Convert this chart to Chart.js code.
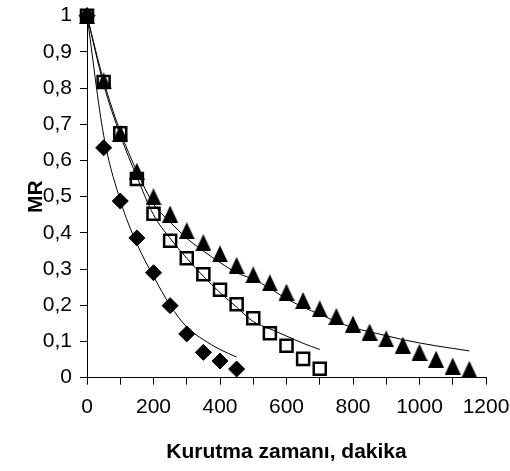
<!DOCTYPE html>
<html>
<head>
<meta charset="utf-8">
<script src="https://cdn.jsdelivr.net/npm/chart.js@4/dist/chart.umd.min.js"></script>
<style>
  html, body { margin: 0; padding: 0; background: #fff; }
  #wrap { width: 510px; height: 471px; }
</style>
</head>
<body>
<div id="wrap"><canvas id="mrChart" width="510" height="471"></canvas></div>
<script>
// drying time (min) and measured MR values
const timeA = [0, 50, 100, 150, 200, 250, 300, 350, 400, 450];
const mrA = [1, 0.635, 0.488, 0.386, 0.29, 0.199, 0.121, 0.07, 0.046, 0.024];

const timeB = [0, 50, 100, 150, 200, 250, 300, 350, 400, 450, 500, 550, 600, 650, 700];
const mrB = [1, 0.817, 0.675, 0.549, 0.453, 0.378, 0.33, 0.286, 0.243, 0.203, 0.164, 0.123, 0.088, 0.052, 0.025];

const timeC = [0, 50, 100, 150, 200, 250, 300, 350, 400, 450, 500, 550, 600, 650, 700, 750, 800, 850, 900, 950, 1000, 1050, 1100, 1150];
const mrC = [1, 0.82, 0.675, 0.57, 0.5, 0.452, 0.406, 0.373, 0.342, 0.31, 0.284, 0.262, 0.236, 0.213, 0.19, 0.169, 0.148, 0.126, 0.107, 0.09, 0.07, 0.051, 0.032, 0.023];

// fitted model curves
const fitA = [1, 0.67, 0.49, 0.37, 0.28, 0.2, 0.14, 0.105, 0.078, 0.057];
const fitB = [1, 0.81, 0.67, 0.555, 0.45, 0.385, 0.33, 0.28, 0.235, 0.195, 0.155, 0.135, 0.115, 0.095, 0.078];
const fitC = [1, 0.82, 0.68, 0.57, 0.48, 0.43, 0.385, 0.35, 0.318, 0.29, 0.272, 0.247, 0.218, 0.195, 0.175, 0.155, 0.138, 0.127, 0.116, 0.105, 0.096, 0.088, 0.081, 0.074];

const xTitle = 'Kurutma zamanı, dakika';
const yTitle = 'MR';

const pts = (xs, ys) => xs.map((x, i) => ({ x: x, y: ys[i] }));

// Excel-like triangle marker: a bit taller than wide
function triangleMarker(w, h) {
  const c = document.createElement('canvas');
  c.width = w;
  c.height = h;
  const g = c.getContext('2d');
  g.fillStyle = '#000';
  g.beginPath();
  g.moveTo(w / 2, 0);
  g.lineTo(w, h);
  g.lineTo(0, h);
  g.closePath();
  g.fill();
  return c;
}

const fitLine = (xs, ys) => ({
  data: pts(xs, ys),
  showLine: true,
  borderColor: '#000',
  borderWidth: 1,
  pointRadius: 0,
  cubicInterpolationMode: 'monotone',
  clip: false,
  order: 0
});

const tickFont = { family: 'Liberation Sans, Arial, sans-serif', size: 21 };
const titleFont = { family: 'Liberation Sans, Arial, sans-serif', size: 21, weight: 'bold' };

new Chart(document.getElementById('mrChart'), {
  type: 'scatter',
  data: {
    datasets: [
      {
        data: pts(timeB, mrB),
        pointStyle: 'rect',
        pointRadius: 8.5,
        pointBackgroundColor: '#fff',
        pointBorderColor: '#000',
        pointBorderWidth: 2.5,
        clip: false,
        order: 3
      },
      {
        data: pts(timeA, mrA),
        pointStyle: 'rectRot',
        pointRadius: 8,
        pointBackgroundColor: '#000',
        pointBorderColor: '#000',
        pointBorderWidth: 1,
        clip: false,
        order: 2
      },
      {
        data: pts(timeC, mrC),
        pointStyle: triangleMarker(16, 17),
        pointRadius: 9,
        clip: false,
        order: 1
      },
      fitLine(timeA, fitA),
      fitLine(timeB, fitB),
      fitLine(timeC, fitC)
    ]
  },
  options: {
    responsive: false,
    animation: false,
    layout: { padding: { top: 15.7, right: 24, bottom: 0, left: 0 } },
    plugins: { legend: { display: false }, tooltip: { enabled: false } },
    scales: {
      x: {
        type: 'linear',
        min: 0,
        max: 1200,
        afterFit: (s) => { s.height = 93.3; s.paddingLeft = 0; s.paddingRight = 0; },
        border: { color: '#000', width: 1 },
        grid: { drawOnChartArea: false, drawTicks: true, tickLength: 7, color: '#000' },
        ticks: {
          stepSize: 100,
          color: '#000',
          font: tickFont,
          padding: 10,
          maxRotation: 0,
          autoSkip: false,
          callback: (v) => (v % 200 === 0 ? String(v) : '')
        },
        title: { display: true, text: xTitle, color: '#000', font: titleFont, padding: { top: 0, bottom: 6.5 } }
      },
      y: {
        type: 'linear',
        min: 0,
        max: 1,
        afterFit: (s) => { s.width = 87; s.paddingTop = 0; s.paddingBottom = 0; },
        border: { color: '#000', width: 1 },
        grid: { drawOnChartArea: false, drawTicks: true, tickLength: 7, color: '#000' },
        ticks: {
          stepSize: 0.1,
          color: '#000',
          font: tickFont,
          padding: 8,
          callback: (v) => {
            const r = Math.round(v * 10) / 10;
            return String(r).replace('.', ',');
          }
        },
        title: { display: true, text: yTitle, color: '#000', font: titleFont, padding: { top: 24, bottom: 0 } }
      }
    }
  }
});
</script>
</body>
</html>
